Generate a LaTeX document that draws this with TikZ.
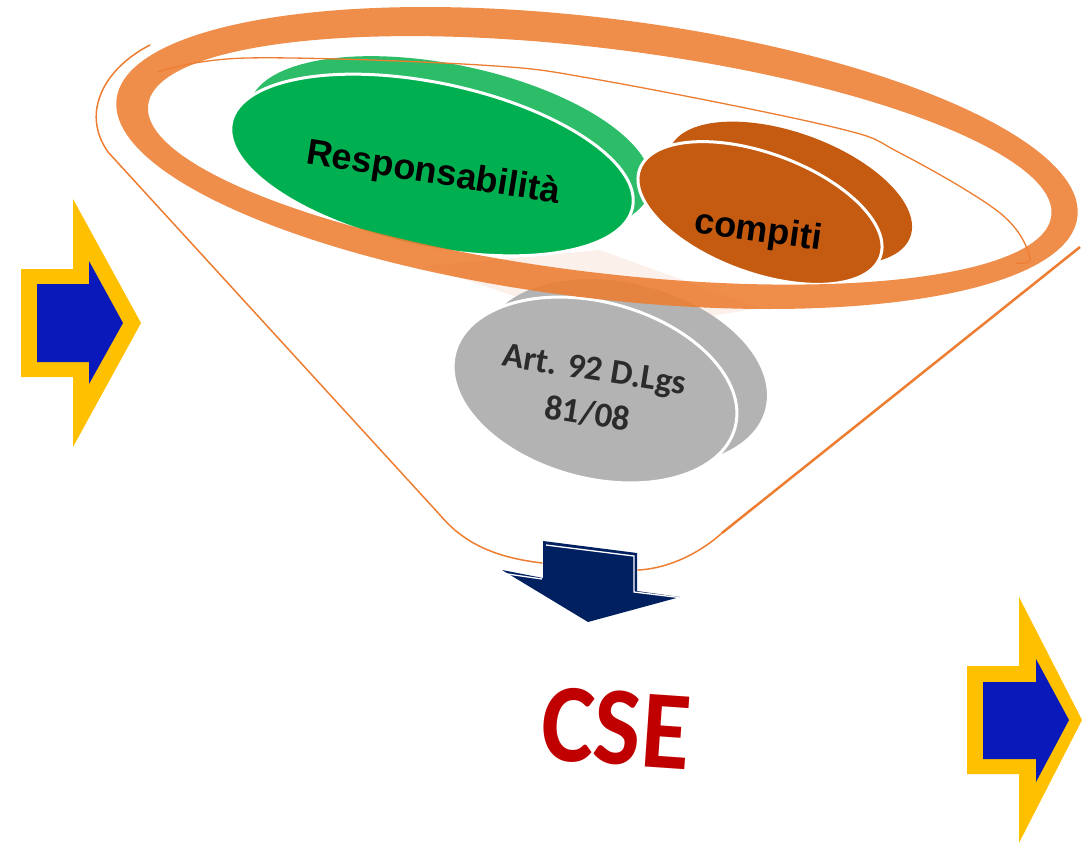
\documentclass[tikz,border=0pt]{standalone}
\usepackage{fontspec}
\newfontfamily\arialf{Liberation Sans}
\newfontfamily\calibrif{Carlito}
\definecolor{ringorange}{HTML}{ED7D31}
\definecolor{grn}{HTML}{00B050}
\definecolor{grnback}{HTML}{2DBC68}
\definecolor{brn}{HTML}{C55A11}
\definecolor{gry}{HTML}{B3B3B3}
\definecolor{navy}{HTML}{002060}
\definecolor{csered}{HTML}{C00000}
\definecolor{yel}{HTML}{FFC000}
\definecolor{blu}{HTML}{0A19B9}
\definecolor{peach}{HTML}{FCF0EA}
\definecolor{artgray}{HTML}{2B2B2B}
\tikzset{
  funnel/.style={draw=ringorange, line width=1.5pt, line cap=round},
  frontface/.style={draw=white, line width=3pt},
  bigtext/.style={font=\arialf\bfseries\fontsize{36}{40}\selectfont, text=black, inner sep=0pt},
  arttext/.style={font=\calibrif\bfseries\fontsize{35}{45}\selectfont, text=artgray, align=center, inner sep=0pt},
  outerarrow/.style={fill=yel},
  innerarrow/.style={fill=blu},
}
\begin{document}
\begin{tikzpicture}[x=1pt,y=-1pt]
\useasboundingbox (0,0) rectangle (1082,841);

% faint interior shading
\fill[peach] (425,266) -- (600,250) -- (760,308) -- (700,318) -- (520,298) -- cycle;

% funnel outline
\coordinate (fl0) at (150,45);
\coordinate (fl1) at (108,152);
\coordinate (fl2) at (440,515);
\coordinate (fl3) at (542,563);
\coordinate (fr0) at (638,570);
\coordinate (fr1) at (722,533);
\coordinate (fr2) at (1080,247);
\draw[funnel] (fl0) .. controls (105,68) and (80,112) .. (fl1) -- (fl2) .. controls (466,546) and (500,558) .. (fl3);
\draw[funnel] (fr0) .. controls (662,569) and (694,558) .. (fr1);
\draw[draw=ringorange, line width=2.5pt] (fr1) -- (fr2);

% gray disc
\fill[gry, rotate around={-15:(625,372)}] (625,372) ellipse [x radius=145, y radius=88];
\filldraw[gry, frontface, rotate around={-15:(595,390)}] (595,390) ellipse [x radius=145, y radius=88];

% green disc
\fill[grnback, rotate around={-12:(450,147)}] (450,147) ellipse [x radius=205, y radius=82];
\filldraw[grn, frontface, rotate around={-12:(432,165)}] (432,165) ellipse [x radius=205, y radius=82];

% brown disc
\fill[brn, rotate around={-20:(790,193)}] (790,193) ellipse [x radius=128, y radius=60];
\filldraw[brn, frontface, rotate around={-20:(760,213)}] (760,213) ellipse [x radius=128, y radius=60];

% inner rim line
\draw[draw=ringorange, line width=1.3pt] plot[smooth, tension=0.6] coordinates {(158,72) (247,58) (480,65) (600,80) (833,127) (900,153) (1000,213) (1030,257) (1016,263)};

% striped ring
\fill[ringorange, opacity=0.88, even odd rule, rotate around={-7:(597,158)}]
  (597,158) ellipse [x radius=484, y radius=140]
  (600,160) ellipse [x radius=455, y radius=112];

% texts
\node[bigtext, rotate=-9] (resp) at (433,174) {Responsabilità};
\node[bigtext, rotate=-8] (comp) at (758,232) {compiti};
\node[arttext, rotate=-9] (art) at (591,392) {Art. 92 D.Lgs\\81/08};
\node[font=\calibrif\bfseries\fontsize{100}{100}\selectfont, text=csered, rotate=-4, inner sep=0pt] (cse) at (616,728) {\scalebox{1}[1.12]{CSE}};

% navy 3D arrow
\fill[navy] (543,541) -- (637,553) -- (637,591) -- (680,597) -- (588,622) -- (502,570) -- (543,578) -- cycle;
\draw[white, line width=1.3pt] (546,545) -- (634,556) -- (634,592) -- (679,597.5);
\draw[white, line width=1.3pt] (504,573.5) -- (542,579);

% left yellow/blue arrow
\fill[outerarrow] (21,269) -- (73,269) -- (73,199) -- (141,323) -- (73,447) -- (73,377) -- (21,377) -- cycle;
\fill[innerarrow] (37,284) -- (89,284) -- (89,261) -- (123,323) -- (89,384) -- (89,362) -- (37,362) -- cycle;

% right yellow/blue arrow
\fill[outerarrow] (967,666) -- (1019,666) -- (1019,597) -- (1082,720) -- (1019,843) -- (1019,774) -- (967,774) -- cycle;
\fill[innerarrow] (983,682) -- (1036,682) -- (1036,659) -- (1069,720) -- (1036,782) -- (1036,759) -- (983,759) -- cycle;
\end{tikzpicture}
\end{document}
